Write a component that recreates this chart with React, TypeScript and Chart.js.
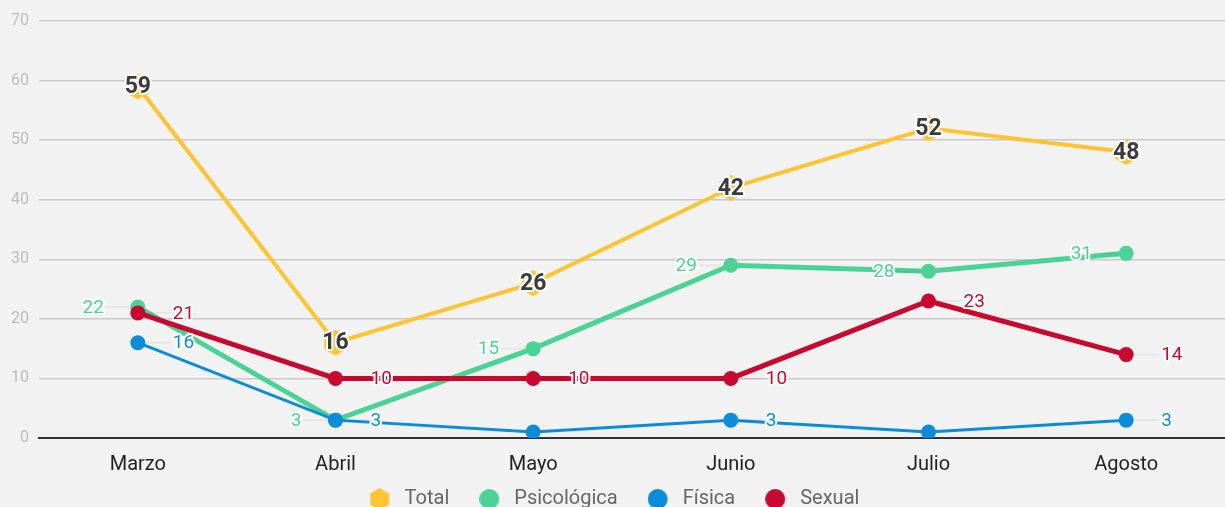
import React, { useEffect, useRef } from "react";
import { Chart, registerables } from "chart.js";

Chart.register(...registerables);

// ---------- DATA ----------
const months = ["Marzo", "Abril", "Mayo", "Junio", "Julio", "Agosto"];
const seriesNames = ["Total", "Psicológica", "Física", "Sexual"];
const totalValues = [59, 16, 26, 42, 52, 48];
const psicologicaValues = [22, 3, 15, 29, 28, 31];
const fisicaValues = [16, 3, 1, 3, 1, 3];
const sexualValues = [21, 10, 10, 10, 23, 14];
// indices whose value label is not shown in the reference
const fisicaHiddenLabels = [2, 4];
const yMin = 0;
const yMax = 70;
const yStep = 10;

// ---------- STYLE ----------
const W = 1225;
const H = 507;
const BG = "#f2f2f2";
const C_TOTAL = "#fec433";
const C_PSI = "#4ad394";
const C_FIS = "#0b8cdb";
const C_SEX = "#c9082f";
const FONT = "Roboto";

function makeHex(r: number, w: number, h: number, cx: number, cy: number, color: string) {
  const c = document.createElement("canvas");
  c.width = w;
  c.height = h;
  const g = c.getContext("2d")!;
  g.fillStyle = color;
  g.beginPath();
  for (let k = 0; k < 6; k++) {
    const a = (Math.PI / 180) * (60 * k - 90);
    const px = cx + r * Math.cos(a);
    const py = cy + r * Math.sin(a);
    if (k === 0) g.moveTo(px, py);
    else g.lineTo(px, py);
  }
  g.closePath();
  g.fill();
  return c;
}

function makeCircle(r: number, w: number, h: number, cx: number, cy: number, color: string) {
  const c = document.createElement("canvas");
  c.width = w;
  c.height = h;
  const g = c.getContext("2d")!;
  g.fillStyle = color;
  g.beginPath();
  g.arc(cx, cy, r, 0, Math.PI * 2);
  g.fill();
  return c;
}

type LabelCfg = { side: "center" | "left" | "right"; color: string; bold: boolean; hidden: number[] };

export default function App() {
  const ref = useRef<HTMLCanvasElement | null>(null);

  useEffect(() => {
    document.body.style.margin = "0";
    document.body.style.background = BG;
    document.body.style.overflow = "hidden";
    const canvas = ref.current;
    if (!canvas) return;

    const hexPoint = makeHex(13, 24, 28, 12, 14, C_TOTAL);
    const legendImgs = [
      makeHex(11, 30, 24, 10, 12, C_TOTAL),
      makeCircle(10, 30, 24, 10, 12, C_PSI),
      makeCircle(10, 30, 24, 10, 12, C_FIS),
      makeCircle(10, 30, 24, 10, 12, C_SEX),
    ];
    const colors = [C_TOTAL, C_PSI, C_FIS, C_SEX];

    const labelCfgs: LabelCfg[] = [
      { side: "center", color: "#3b3b3b", bold: true, hidden: [] },
      { side: "left", color: C_PSI, bold: false, hidden: [] },
      { side: "right", color: C_FIS, bold: false, hidden: fisicaHiddenLabels },
      { side: "right", color: C_SEX, bold: false, hidden: [] },
    ];

    const bgPlugin = {
      id: "bg",
      beforeDraw(chart: any) {
        const ctx = chart.ctx;
        ctx.save();
        ctx.fillStyle = BG;
        ctx.fillRect(0, 0, chart.width, chart.height);
        ctx.restore();
      },
    };

    const legendBox = {
      id: "legendBox",
      beforeInit(chart: any) {
        const lg = chart.legend;
        if (!lg) return;
        const orig = lg.fit;
        lg.fit = function () {
          orig.call(lg);
          lg.height = 30;
        };
      },
      afterLayout(chart: any) {
        const lg = chart.legend;
        if (!lg) return;
        lg.top = 454;
        lg.bottom = 507;
        lg.left += 4.5;
        lg.right += 4.5;
      },
    };

    const dataLabels = {
      id: "dataLabels",
      afterDatasetsDraw(chart: any) {
        const ctx = chart.ctx;
        const drawOrder = [1, 2, 3, 0];
        drawOrder.forEach((di) => {
          const ds = chart.data.datasets[di];
          const meta = chart.getDatasetMeta(di);
          const cfg = labelCfgs[di];
          meta.data.forEach((pt: any, i: number) => {
            if (cfg.hidden.includes(i)) return;
            const text = String(ds.data[i]);
            ctx.save();
            ctx.font = (cfg.bold ? "bold 23px " : "19px ") + FONT;
            ctx.textBaseline = "middle";
            let x = pt.x;
            const y = pt.y + 1;
            if (cfg.side === "left") {
              ctx.strokeStyle = "rgba(0,0,0,0.05)";
              ctx.lineWidth = 2;
              ctx.beginPath();
              ctx.moveTo(pt.x - 8, pt.y);
              ctx.lineTo(pt.x - 32, pt.y);
              ctx.stroke();
              ctx.textAlign = "right";
              x = pt.x - 34;
            } else if (cfg.side === "right") {
              ctx.strokeStyle = "rgba(0,0,0,0.05)";
              ctx.lineWidth = 2;
              ctx.beginPath();
              ctx.moveTo(pt.x + 8, pt.y);
              ctx.lineTo(pt.x + 32, pt.y);
              ctx.stroke();
              ctx.textAlign = "left";
              x = pt.x + 35;
            } else {
              ctx.textAlign = "center";
            }
            ctx.lineJoin = "round";
            ctx.strokeStyle = "#ffffff";
            ctx.lineWidth = 4;
            ctx.strokeText(text, x, y);
            ctx.fillStyle = cfg.color;
            ctx.fillText(text, x, y);
            ctx.restore();
          });
        });
      },
    };

    Chart.defaults.font.family = FONT;

    const chart = new Chart(canvas, {
      type: "line",
      data: {
        labels: months,
        datasets: [
          {
            label: seriesNames[0],
            data: totalValues,
            borderColor: C_TOTAL,
            backgroundColor: C_TOTAL,
            borderWidth: 4,
            pointStyle: hexPoint as any,
            pointRadius: 7,
            order: 0,
          },
          {
            label: seriesNames[1],
            data: psicologicaValues,
            borderColor: C_PSI,
            backgroundColor: C_PSI,
            borderWidth: 5,
            pointRadius: 7.5,
            pointBorderWidth: 0,
            order: 3,
          },
          {
            label: seriesNames[2],
            data: fisicaValues,
            borderColor: C_FIS,
            backgroundColor: C_FIS,
            borderWidth: 3,
            pointRadius: 7.5,
            pointBorderWidth: 0,
            order: 2,
          },
          {
            label: seriesNames[3],
            data: sexualValues,
            borderColor: C_SEX,
            backgroundColor: C_SEX,
            borderWidth: 5,
            pointRadius: 7.5,
            pointBorderWidth: 0,
            order: 1,
          },
        ],
      },
      options: {
        animation: false,
        responsive: false,
        maintainAspectRatio: false,
        devicePixelRatio: 1,
        layout: { autoPadding: false, padding: { top: 21, left: 0, right: 0, bottom: 0 } },
        plugins: {
          tooltip: { enabled: false },
          legend: {
            position: "bottom",
            labels: {
              usePointStyle: true,
              padding: 35,
              color: "#666",
              font: { size: 20, family: FONT },
              generateLabels: () =>
                seriesNames.map((name, i) => ({
                  text: name,
                  fillStyle: colors[i],
                  strokeStyle: colors[i],
                  lineWidth: 0,
                  pointStyle: legendImgs[i] as any,
                  hidden: false,
                  datasetIndex: i,
                  fontColor: "#666",
                })),
            },
          },
        },
        scales: {
          x: {
            offset: true,
            grid: { display: false, drawTicks: false },
            border: { display: true, color: "#333", width: 2 },
            ticks: { color: "#222", font: { size: 20, family: FONT }, padding: 15 },
            afterFit: (s: any) => {
              s.height = 39;
              s.paddingLeft = 0;
              s.paddingRight = 0;
            },
          },
          y: {
            min: yMin,
            max: yMax,
            grid: { color: "#c9c9c9", lineWidth: 1.5, drawTicks: false },
            border: { display: false },
            ticks: { stepSize: yStep, color: "#bdbdbd", font: { size: 16, family: FONT }, padding: 10 },
            afterFit: (s: any) => {
              s.width = 39;
            },
          },
        },
      },
      plugins: [bgPlugin, legendBox, dataLabels],
    });

    return () => chart.destroy();
  }, []);

  return (
    <div style={{ position: "absolute", left: 0, top: 0, width: W, height: H, background: BG, overflow: "hidden" }}>
      <canvas ref={ref} width={W} height={H} style={{ display: "block", width: W, height: H }} />
    </div>
  );
}
